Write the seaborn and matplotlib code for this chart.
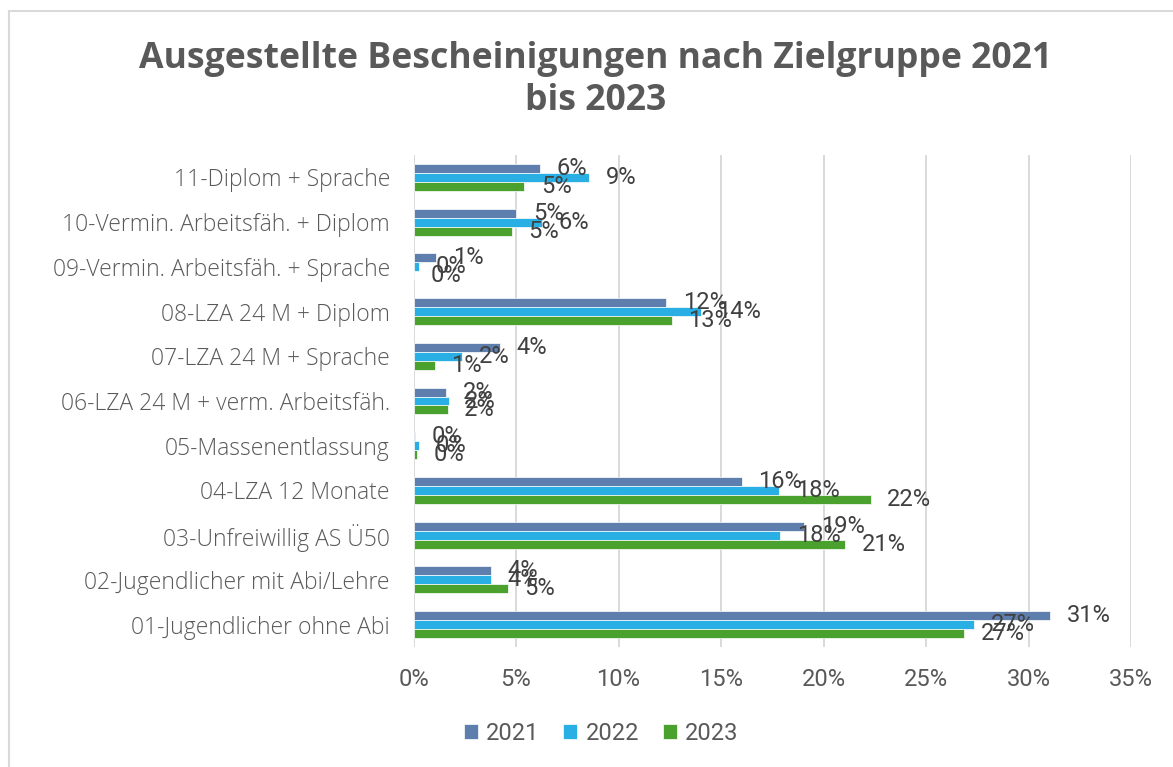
import numpy as np
import pandas as pd
import seaborn as sns
import matplotlib
matplotlib.use("Agg")
import matplotlib.pyplot as plt
from matplotlib.lines import Line2D

# ---- data (percent of certificates issued) ----
categories = [
    "11-Diplom + Sprache",
    "10-Vermin. Arbeitsfäh. + Diplom",
    "09-Vermin. Arbeitsfäh. + Sprache",
    "08-LZA 24 M + Diplom",
    "07-LZA 24 M + Sprache",
    "06-LZA 24 M + verm. Arbeitsfäh.",
    "05-Massenentlassung",
    "04-LZA 12 Monate",
    "03-Unfreiwillig AS Ü50",
    "02-Jugendlicher mit Abi/Lehre",
    "01-Jugendlicher ohne Abi",
]
years = ["2021", "2022", "2023"]
values_2021 = [6.16, 5.02, 1.10, 12.33, 4.20, 1.58, 0.09, 16.00, 19.06, 3.78, 31.05]
values_2022 = [8.56, 6.27, 0.25, 14.00, 2.36, 1.71, 0.25, 17.84, 17.90, 3.76, 27.35]
values_2023 = [5.41, 4.80, 0.03, 12.60, 1.03, 1.66, 0.19, 22.30, 21.04, 4.59, 26.85]
x_ticks = [0, 5, 10, 15, 20, 25, 30, 35]
title = "Ausgestellte Bescheinigungen nach Zielgruppe 2021\nbis 2023"

colors = ["#5E7FAE", "#2AAFE4", "#4BA12E"]

df = pd.DataFrame({
    "Zielgruppe": categories * 3,
    "Jahr": [years[0]] * len(categories) + [years[1]] * len(categories) + [years[2]] * len(categories),
    "Anteil": values_2021 + values_2022 + values_2023,
})

sns.set_style("white")
plt.rcParams["font.family"] = ["Open Sans", "DejaVu Sans"]

W, H = 1173, 767
fig = plt.figure(figsize=(W / 100, H / 100), dpi=100)
ax = fig.add_axes([413.5 / W, 1 - 647 / H, (1131 - 413.5) / W, (647 - 155) / H])

sns.barplot(data=df, y="Zielgruppe", x="Anteil", hue="Jahr", order=categories,
            hue_order=years, palette=colors, saturation=1, orient="h", width=0.6,
            edgecolor="white", linewidth=0.5, ax=ax, legend=True)

num_font = ["Roboto", "DejaVu Sans"]
for cont in ax.containers:
    labels = [f"{b.get_width():.0f}%" for b in cont]
    ax.bar_label(cont, labels=labels, padding=12, fontsize=17, color="#404040",
                 family=num_font)

ax.set_xlim(0, 35)
ax.set_xticks(x_ticks)
ax.set_xticklabels([f"{t}%" for t in x_ticks], family=num_font)
ax.tick_params(axis="x", length=0, pad=15, labelsize=17, labelcolor="#595959")
ax.tick_params(axis="y", length=0, pad=17, labelsize=16.5, labelcolor="#595959")
for lab in ax.get_yticklabels():
    lab.set_fontweight("light")
ax.xaxis.grid(True, color="#D9D9D9", linewidth=1.4)
ax.yaxis.grid(False)
ax.set_axisbelow(True)
for s in ax.spines.values():
    s.set_visible(False)
ax.set_xlabel("")
ax.set_ylabel("")

handles, labs = ax.get_legend_handles_labels()
ax.legend_.remove()
fig.legend(handles, labs, loc="center", bbox_to_anchor=(601 / W, 1 - 733 / H),
           ncol=3, frameon=False, handlelength=0.6, handleheight=0.6,
           handletextpad=0.35, columnspacing=1.0,
           prop={"family": num_font, "size": 17},
           labelcolor="#595959")

fig.text(596 / W, 1 - 80 / H, title, ha="center", va="center", fontsize=25.7,
         fontweight="bold", color="#595959", linespacing=1.22)

# chart border (top and left edges visible)
fig.add_artist(Line2D([9 / W, 1.01], [1 - 11 / H, 1 - 11 / H], color="#D9D9D9", lw=1.5))
fig.add_artist(Line2D([9 / W, 9 / W], [1 - 11 / H, -0.01], color="#D9D9D9", lw=1.5))

fig.savefig("out.png", dpi=100, facecolor="white")
